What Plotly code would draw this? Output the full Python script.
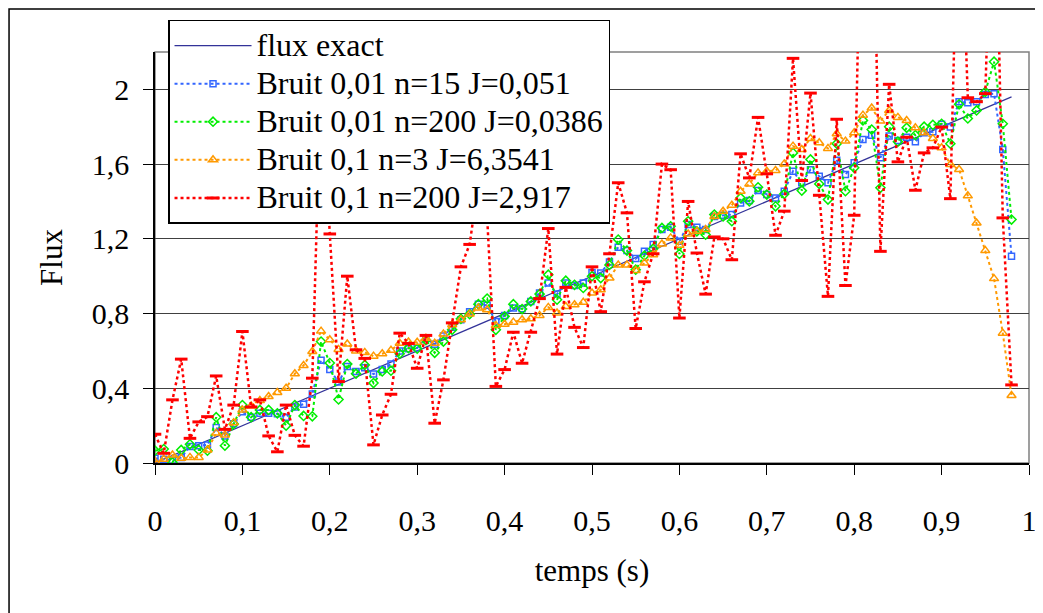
import plotly.graph_objects as go

# time samples (s)
temps = [
    0.00, 0.01, 0.02, 0.03, 0.04, 0.05, 0.06, 0.07, 0.08, 0.09,
    0.10, 0.11, 0.12, 0.13, 0.14, 0.15, 0.16, 0.17, 0.18, 0.19,
    0.20, 0.21, 0.22, 0.23, 0.24, 0.25, 0.26, 0.27, 0.28, 0.29,
    0.30, 0.31, 0.32, 0.33, 0.34, 0.35, 0.36, 0.37, 0.38, 0.39,
    0.40, 0.41, 0.42, 0.43, 0.44, 0.45, 0.46, 0.47, 0.48, 0.49,
    0.50, 0.51, 0.52, 0.53, 0.54, 0.55, 0.56, 0.57, 0.58, 0.59,
    0.60, 0.61, 0.62, 0.63, 0.64, 0.65, 0.66, 0.67, 0.68, 0.69,
    0.70, 0.71, 0.72, 0.73, 0.74, 0.75, 0.76, 0.77, 0.78, 0.79,
    0.80, 0.81, 0.82, 0.83, 0.84, 0.85, 0.86, 0.87, 0.88, 0.89,
    0.90, 0.91, 0.92, 0.93, 0.94, 0.95, 0.96, 0.97, 0.98,
]

flux_exact = [
    0.00, 0.02, 0.04, 0.06, 0.08, 0.10, 0.12, 0.14, 0.16, 0.18,
    0.20, 0.22, 0.24, 0.26, 0.28, 0.30, 0.32, 0.34, 0.36, 0.38,
    0.40, 0.42, 0.44, 0.46, 0.48, 0.50, 0.52, 0.54, 0.56, 0.58,
    0.60, 0.62, 0.64, 0.66, 0.68, 0.70, 0.72, 0.74, 0.76, 0.78,
    0.80, 0.82, 0.84, 0.86, 0.88, 0.90, 0.92, 0.94, 0.96, 0.98,
    1.00, 1.02, 1.04, 1.06, 1.08, 1.10, 1.12, 1.14, 1.16, 1.18,
    1.20, 1.22, 1.24, 1.26, 1.28, 1.30, 1.32, 1.34, 1.36, 1.38,
    1.40, 1.42, 1.44, 1.46, 1.48, 1.50, 1.52, 1.54, 1.56, 1.58,
    1.60, 1.62, 1.64, 1.66, 1.68, 1.70, 1.72, 1.74, 1.76, 1.78,
    1.80, 1.82, 1.84, 1.86, 1.88, 1.90, 1.92, 1.94, 1.96,
]

# Bruit 0,01 n=15
bruit_001_n15 = [
    0.025, 0.020, 0.013, 0.030, 0.088, 0.093, 0.097, 0.190, 0.145, 0.210,
    0.275, 0.245, 0.266, 0.266, 0.263, 0.245, 0.300, 0.315, 0.370, 0.550,
    0.500, 0.434, 0.516, 0.490, 0.510, 0.476, 0.500, 0.530, 0.600, 0.612,
    0.616, 0.668, 0.635, 0.680, 0.726, 0.767, 0.810, 0.850, 0.844, 0.758,
    0.790, 0.830, 0.826, 0.865, 0.910, 0.963, 0.904, 0.963, 0.950, 0.963,
    1.020, 1.017, 1.076, 1.155, 1.137, 1.094, 1.133, 1.169, 1.250, 1.262,
    1.187, 1.276, 1.262, 1.250, 1.320, 1.326, 1.330, 1.392, 1.405, 1.458,
    1.437, 1.419, 1.455, 1.562, 1.500, 1.570, 1.535, 1.500, 1.620, 1.544,
    1.607, 1.732, 1.755, 1.634, 1.750, 1.726, 1.744, 1.720, 1.768, 1.773,
    1.813, 1.798, 1.934, 1.928, 1.934, 1.973, 1.977, 1.678, 1.107,
]

# Bruit 0,01 n=200
bruit_001_n200 = [
    0.066, 0.075, 0.004, 0.070, 0.100, 0.070, 0.066, 0.245, 0.093, 0.209,
    0.310, 0.245, 0.284, 0.284, 0.266, 0.200, 0.310, 0.252, 0.250, 0.650,
    0.535, 0.340, 0.530, 0.478, 0.525, 0.428, 0.490, 0.494, 0.585, 0.615,
    0.612, 0.658, 0.590, 0.650, 0.713, 0.772, 0.797, 0.850, 0.880, 0.713,
    0.785, 0.850, 0.824, 0.865, 0.904, 1.008, 0.874, 0.976, 0.954, 0.937,
    1.000, 0.990, 1.060, 1.196, 1.137, 1.035, 1.110, 1.147, 1.258, 1.267,
    1.119, 1.294, 1.240, 1.222, 1.330, 1.320, 1.294, 1.419, 1.401, 1.476,
    1.437, 1.374, 1.440, 1.660, 1.458, 1.625, 1.494, 1.410, 1.709, 1.455,
    1.580, 1.834, 1.785, 1.473, 1.800, 1.720, 1.794, 1.755, 1.800, 1.810,
    1.816, 1.709, 1.920, 1.844, 1.887, 1.987, 2.148, 1.816, 1.303,
]

# Bruit 0,1 n=3
bruit_01_n3 = [
    0.007, 0.020, 0.043, 0.025, 0.030, 0.030, 0.070, 0.160, 0.150, 0.216,
    0.284, 0.305, 0.334, 0.356, 0.377, 0.400, 0.478, 0.522, 0.597, 0.706,
    0.660, 0.608, 0.637, 0.600, 0.592, 0.572, 0.585, 0.603, 0.641, 0.648,
    0.646, 0.668, 0.641, 0.690, 0.740, 0.767, 0.797, 0.830, 0.820, 0.736,
    0.743, 0.754, 0.767, 0.772, 0.790, 0.833, 0.803, 0.838, 0.847, 0.860,
    0.910, 0.927, 0.990, 1.060, 1.060, 1.030, 1.070, 1.115, 1.172, 1.205,
    1.165, 1.226, 1.240, 1.250, 1.320, 1.348, 1.380, 1.455, 1.494, 1.553,
    1.562, 1.566, 1.601, 1.696, 1.678, 1.737, 1.714, 1.684, 1.762, 1.723,
    1.768, 1.862, 1.900, 1.830, 1.887, 1.850, 1.833, 1.794, 1.768, 1.737,
    1.687, 1.598, 1.571, 1.430, 1.285, 1.137, 0.987, 0.695, 0.361,
]

# Bruit 0,1 n=200
bruit_01_n200 = [
    0.154, 0.052, 0.338, 0.556, 0.132, 0.220, 0.248, 0.466, 0.180, 0.310,
    0.704, 0.300, 0.338, 0.145, 0.060, 0.310, 0.148, 0.090, 0.454, 2.100,
    1.226, 0.436, 1.000, 0.606, 0.560, 0.097, 0.257, 0.368, 0.695, 0.640,
    0.507, 0.683, 0.213, 0.445, 0.750, 1.050, 1.170, 1.500, 1.320, 0.410,
    0.500, 0.700, 0.534, 0.700, 0.880, 1.255, 0.583, 0.940, 0.726, 0.618,
    1.050, 0.810, 1.120, 1.500, 1.339, 0.720, 0.970, 1.120, 1.600, 1.570,
    0.776, 1.400, 1.124, 0.904, 1.210, 1.200, 1.088, 1.655, 1.526, 1.850,
    1.548, 1.219, 1.348, 2.166, 1.512, 1.980, 1.433, 0.892, 1.840, 0.950,
    1.326, 3.500, 3.500, 1.133, 2.027, 1.612, 1.744, 1.460, 1.660, 1.687,
    1.798, 1.415, 3.300, 1.955, 1.934, 1.977, 3.500, 1.312, 0.418,
]

FONT = "Liberation Serif"


def legend_name(text):
    # larger glyphs than the legend font, keeps rows tight like the original
    return f'<span style="font-size:32px">{text}</span>'


fig = go.Figure()

fig.add_trace(go.Scatter(
    x=temps, y=flux_exact, name=legend_name("flux exact"), mode="lines",
    line=dict(color="#333399", width=1.2),
))
fig.add_trace(go.Scatter(
    x=temps, y=bruit_001_n15, name=legend_name("Bruit 0,01 n=15 J=0,051"), mode="lines+markers",
    line=dict(color="#3366FF", width=2, dash="dot"),
    marker=dict(symbol="square-open", size=6, color="#3366FF", line=dict(width=1.5)),
))
fig.add_trace(go.Scatter(
    x=temps, y=bruit_001_n200, name=legend_name("Bruit 0,01 n=200 J=0,0386"), mode="lines+markers",
    line=dict(color="#00EE00", width=2, dash="dot"),
    marker=dict(symbol="diamond-open", size=7, color="#00EE00", line=dict(width=1.5)),
))
fig.add_trace(go.Scatter(
    x=temps, y=bruit_01_n3, name=legend_name("Bruit 0,1 n=3 J=6,3541"), mode="lines+markers",
    line=dict(color="#FF9900", width=2, dash="dot"),
    marker=dict(symbol="triangle-up-open", size=8, color="#FF9900", line=dict(width=1.5)),
))
fig.add_trace(go.Scatter(
    x=temps, y=bruit_01_n200, name=legend_name("Bruit 0,1 n=200 J=2,917"), mode="lines+markers",
    line=dict(color="#FF0000", width=2.5, dash="dot"),
    marker=dict(symbol="line-ew-open", size=9, color="#FF0000", line=dict(width=3, color="#FF0000")),
))

# the page body adds an 8px offset, margins below compensate for it
fig.update_layout(
    width=1043,
    height=613,
    margin=dict(l=147, r=22, t=44, b=158),
    paper_bgcolor="white",
    plot_bgcolor="white",
    separators=", ",
    font=dict(family=FONT, size=30, color="black"),
    showlegend=True,
    legend=dict(
        x=0.0149, y=1.0779, xanchor="left", yanchor="top",
        bgcolor="white", bordercolor="black", borderwidth=1.5,
        font=dict(family=FONT, size=27, color="black"),
        itemwidth=77,
    ),
    xaxis=dict(
        range=[0, 1], tick0=0, dtick=0.1,
        automargin=False,
        showgrid=False, zeroline=False,
        showline=True, linecolor="black", linewidth=1.5,
        ticks="outside", ticklen=10, tickcolor="black", tickwidth=1.2,
        ticklabelstandoff=20,
        tickfont=dict(family=FONT, size=30, color="black"),
        title=dict(text="temps (s)", standoff=24, font=dict(family=FONT, size=31)),
    ),
    yaxis=dict(
        range=[0, 2.2], tick0=0, dtick=0.4,
        automargin=False,
        showgrid=True, gridcolor="#404040", gridwidth=1,
        zeroline=False,
        showline=True, linecolor="black", linewidth=1.5,
        ticks="outside", ticklen=10, tickcolor="black", tickwidth=1.2,
        ticklabelstandoff=8,
        tickfont=dict(family=FONT, size=30, color="black"),
        title=dict(text="Flux", standoff=20, font=dict(family=FONT, size=31)),
    ),
    shapes=[
        # plot area border (top/right in grey)
        dict(type="rect", xref="paper", yref="paper", x0=0, y0=0, x1=1, y1=1,
             line=dict(color="#808080", width=1.5), layer="below"),
        # outer chart frame
        dict(type="rect", xref="paper", yref="paper", x0=-0.167, y0=-0.5, x1=1.0126, y1=1.1046,
             line=dict(color="black", width=1.5), layer="below"),
    ],
)

fig.write_html("out.html")
